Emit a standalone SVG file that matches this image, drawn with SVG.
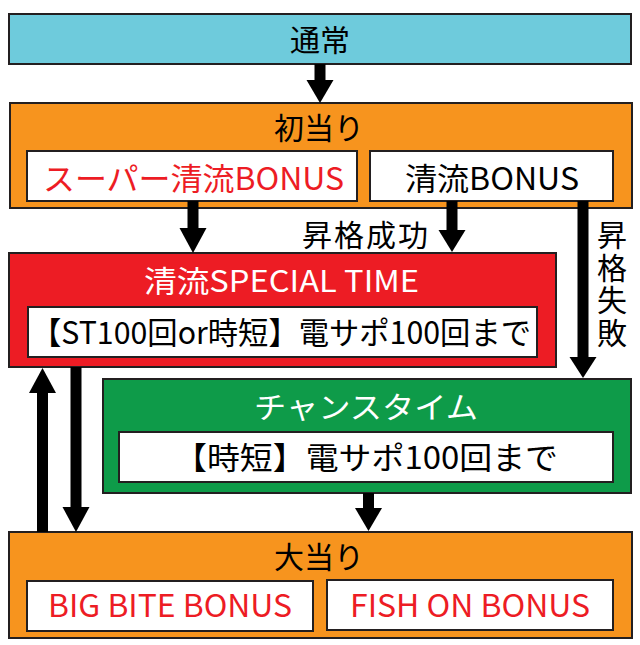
<svg xmlns="http://www.w3.org/2000/svg" width="640" height="645" viewBox="0 0 640 645">
<defs>
<style>
.box{stroke:#231f20;stroke-width:2}
.inner{fill:#fff;stroke:#231f20;stroke-width:2}
text{font-family:"Noto Sans CJK JP","Noto Sans",sans-serif;text-anchor:middle}
.t{font-size:30px;fill:#000}
.w{font-size:30px;fill:#fff}
.i{font-size:31px;fill:#000}
.r{fill:#ed1c24}
.v{writing-mode:vertical-rl;text-anchor:start;letter-spacing:2.7px}
.sh{fill:none;stroke:#000;stroke-width:11}
.hd{fill:#000}
</style>
</defs>
<rect width="640" height="645" fill="#fff"/>
<g id="normal">
  <rect class="box" x="9" y="14" width="622" height="50" fill="#6ecbdc"/>
  <text class="t" x="320" y="51" font-size="31">通常</text>
</g>
<g id="first-hit">
  <rect class="box" x="10" y="103" width="622" height="105" fill="#f7941e"/>
  <text class="t" x="319" y="139">初当り</text>
  <rect class="inner" x="27" y="151" width="330" height="50"/>
  <text class="i r" x="193.5" y="190" textLength="301" lengthAdjust="spacingAndGlyphs">スーパー清流BONUS</text>
  <rect class="inner" x="370" y="151" width="243" height="50"/>
  <text class="i" x="492" y="190" textLength="174" lengthAdjust="spacingAndGlyphs">清流BONUS</text>
</g>
<g id="special-time">
  <rect class="box" x="9" y="253" width="547" height="114" fill="#ed1c24"/>
  <text class="w" x="281.5" y="292" textLength="275" lengthAdjust="spacingAndGlyphs">清流SPECIAL TIME</text>
  <rect class="inner" x="28" y="307" width="509" height="50"/>
  <text class="i" x="281" y="343.5" textLength="500" lengthAdjust="spacingAndGlyphs">【ST100回or時短】電サポ100回まで</text>
</g>
<g id="chance-time">
  <rect class="box" x="103" y="379" width="528" height="114" fill="#0e9b49"/>
  <text class="w" x="366" y="418" textLength="224" lengthAdjust="spacingAndGlyphs">チャンスタイム</text>
  <rect class="inner" x="119" y="432" width="494" height="50"/>
  <text class="i" x="366" y="468.5" textLength="384" lengthAdjust="spacingAndGlyphs">【時短】電サポ100回まで</text>
</g>
<g id="big-hit">
  <rect class="box" x="9" y="532" width="623" height="106" fill="#f7941e"/>
  <text class="t" x="319" y="568">大当り</text>
  <rect class="inner" x="27" y="581" width="286" height="50"/>
  <text class="i r" x="170" y="617" font-size="32" textLength="244" lengthAdjust="spacingAndGlyphs">BIG BITE BONUS</text>
  <rect class="inner" x="327" y="580" width="286" height="50"/>
  <text class="i r" x="470" y="617" font-size="32" textLength="240" lengthAdjust="spacingAndGlyphs">FISH ON BONUS</text>
</g>
<g id="connectors">
  <line class="sh" x1="320" y1="64" x2="320" y2="82"/>
  <polygon class="hd" points="306.5,80 333.5,80 320,103"/>
  <line class="sh" x1="193" y1="201" x2="193" y2="230"/>
  <polygon class="hd" points="179.5,228 206.5,228 193,253"/>
  <line class="sh" x1="452" y1="201" x2="452" y2="232"/>
  <polygon class="hd" points="438.5,230 465.5,230 452,252"/>
  <line class="sh" x1="583" y1="201" x2="583" y2="359"/>
  <polygon class="hd" points="569.5,357 596.5,357 583,378"/>
  <line class="sh" x1="42.5" y1="532" x2="42.5" y2="391"/>
  <polygon class="hd" points="29,393 56,393 42.5,368"/>
  <line class="sh" x1="76" y1="367" x2="76" y2="509"/>
  <polygon class="hd" points="62.5,507 89.5,507 76,532"/>
  <line class="sh" x1="368.5" y1="493" x2="368.5" y2="510"/>
  <polygon class="hd" points="355,508 382,508 368.5,531"/>
  <text class="t" x="366" y="246" letter-spacing="2">昇格成功</text>
  <text class="t v" x="612" y="219.5">昇格失敗</text>
</g>
</svg>
